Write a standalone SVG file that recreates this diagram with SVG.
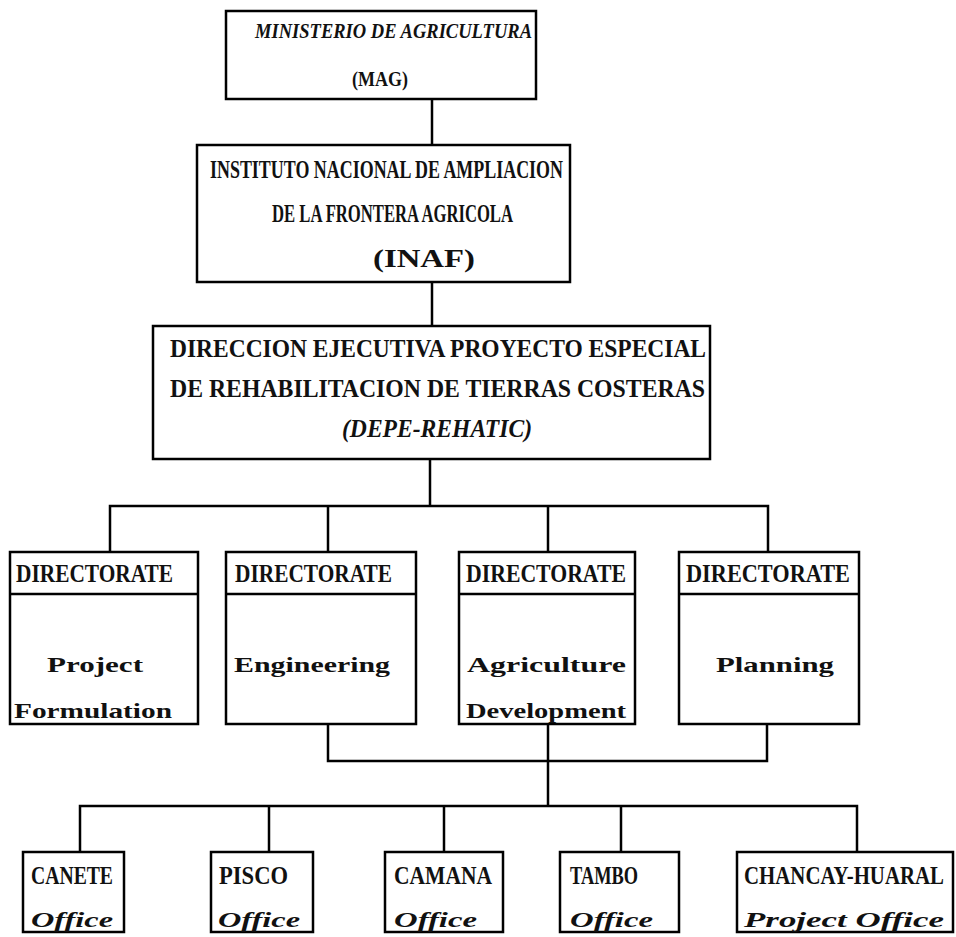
<svg xmlns="http://www.w3.org/2000/svg" width="956" height="937" viewBox="0 0 956 937">
<style>
.box{fill:#fff;stroke:#000;stroke-width:2.5}
.ln{fill:none;stroke:#000;stroke-width:2.5}
text{font-family:"Liberation Serif","DejaVu Serif",serif;font-size:26px;font-weight:bold;fill:#111}
.it{font-style:italic}
.lc{font-size:22px}
.t1{font-size:22px}
</style>
<rect width="956" height="937" fill="#fff"/>
<g id="connectors">
<line class="ln" x1="432" y1="99" x2="432" y2="145"/>
<line class="ln" x1="432" y1="282" x2="432" y2="326"/>
<line class="ln" x1="430" y1="459" x2="430" y2="506"/>
<polyline class="ln" points="110,552 110,506 768,506 768,552"/>
<line class="ln" x1="328" y1="506" x2="328" y2="552"/>
<line class="ln" x1="548" y1="506" x2="548" y2="552"/>
<polyline class="ln" points="328,724 328,761 767,761 767,724"/>
<line class="ln" x1="548" y1="724" x2="548" y2="806"/>
<polyline class="ln" points="80,852 80,806 857,806 857,852"/>
<line class="ln" x1="269" y1="806" x2="269" y2="852"/>
<line class="ln" x1="444" y1="806" x2="444" y2="852"/>
<line class="ln" x1="621" y1="806" x2="621" y2="852"/>
</g>
<g id="mag">
<rect class="box" x="226" y="11" width="310" height="88"/>
<text class="it t1" x="255" y="38" textLength="277" lengthAdjust="spacingAndGlyphs">MINISTERIO DE AGRICULTURA</text>
<text class="t1" x="352" y="86" textLength="56" lengthAdjust="spacingAndGlyphs">(MAG)</text>
</g>
<g id="inaf">
<rect class="box" x="197" y="145" width="373" height="137"/>
<text x="210" y="178" textLength="353" lengthAdjust="spacingAndGlyphs">INSTITUTO NACIONAL DE AMPLIACION</text>
<text x="272" y="222" textLength="241" lengthAdjust="spacingAndGlyphs">DE LA FRONTERA AGRICOLA</text>
<text x="373" y="267" textLength="102" lengthAdjust="spacingAndGlyphs">(INAF)</text>
</g>
<g id="depe">
<rect class="box" x="153" y="326" width="557" height="133"/>
<text x="170" y="357" textLength="536" lengthAdjust="spacingAndGlyphs">DIRECCION EJECUTIVA PROYECTO ESPECIAL</text>
<text x="170" y="397" textLength="535" lengthAdjust="spacingAndGlyphs">DE REHABILITACION DE TIERRAS COSTERAS</text>
<text class="it" x="342" y="437" textLength="190" lengthAdjust="spacingAndGlyphs">(DEPE-REHATIC)</text>
</g>
<g id="dir-formulation">
<rect class="box" x="10" y="552" width="188" height="172"/>
<line class="ln" x1="10" y1="594" x2="198" y2="594"/>
<text x="16" y="582" textLength="157" lengthAdjust="spacingAndGlyphs">DIRECTORATE</text>
<text class="lc" x="47" y="672" textLength="96" lengthAdjust="spacingAndGlyphs">Project</text>
<text class="lc" x="14" y="718" textLength="158" lengthAdjust="spacingAndGlyphs">Formulation</text>
</g>
<g id="dir-engineering">
<rect class="box" x="226" y="552" width="190" height="172"/>
<line class="ln" x1="226" y1="594" x2="416" y2="594"/>
<text x="235" y="582" textLength="157" lengthAdjust="spacingAndGlyphs">DIRECTORATE</text>
<text class="lc" x="234" y="672" textLength="156" lengthAdjust="spacingAndGlyphs">Engineering</text>
</g>
<g id="dir-agriculture">
<rect class="box" x="459" y="552" width="176" height="172"/>
<line class="ln" x1="459" y1="594" x2="635" y2="594"/>
<text x="466" y="582" textLength="160" lengthAdjust="spacingAndGlyphs">DIRECTORATE</text>
<text class="lc" x="467" y="672" textLength="159" lengthAdjust="spacingAndGlyphs">Agriculture</text>
<text class="lc" x="466" y="718" textLength="160" lengthAdjust="spacingAndGlyphs">Development</text>
</g>
<g id="dir-planning">
<rect class="box" x="679" y="552" width="180" height="172"/>
<line class="ln" x1="679" y1="594" x2="859" y2="594"/>
<text x="686" y="582" textLength="164" lengthAdjust="spacingAndGlyphs">DIRECTORATE</text>
<text class="lc" x="716" y="672" textLength="118" lengthAdjust="spacingAndGlyphs">Planning</text>
</g>
<g id="off-canete">
<rect class="box" x="23" y="852" width="101" height="80"/>
<text x="31" y="884" textLength="82" lengthAdjust="spacingAndGlyphs">CANETE</text>
<text class="it lc" x="31" y="927" textLength="82" lengthAdjust="spacingAndGlyphs">Office</text>
</g>
<g id="off-pisco">
<rect class="box" x="211" y="852" width="102" height="80"/>
<text x="219" y="884" textLength="69" lengthAdjust="spacingAndGlyphs">PISCO</text>
<text class="it lc" x="218" y="927" textLength="82" lengthAdjust="spacingAndGlyphs">Office</text>
</g>
<g id="off-camana">
<rect class="box" x="385" y="852" width="118" height="80"/>
<text x="394" y="884" textLength="98" lengthAdjust="spacingAndGlyphs">CAMANA</text>
<text class="it lc" x="394" y="927" textLength="83" lengthAdjust="spacingAndGlyphs">Office</text>
</g>
<g id="off-tambo">
<rect class="box" x="560" y="852" width="119" height="80"/>
<text x="570" y="884" textLength="68" lengthAdjust="spacingAndGlyphs">TAMBO</text>
<text class="it lc" x="570" y="927" textLength="83" lengthAdjust="spacingAndGlyphs">Office</text>
</g>
<g id="off-chancay">
<rect class="box" x="737" y="852" width="216" height="80"/>
<text transform="translate(744,884) scale(0.8,1)" x="0" y="0" textLength="250" lengthAdjust="spacingAndGlyphs">CHANCAY-HUARAL</text>
<text class="it lc" x="744" y="927" textLength="200" lengthAdjust="spacingAndGlyphs">Project Office</text>
</g>
</svg>
